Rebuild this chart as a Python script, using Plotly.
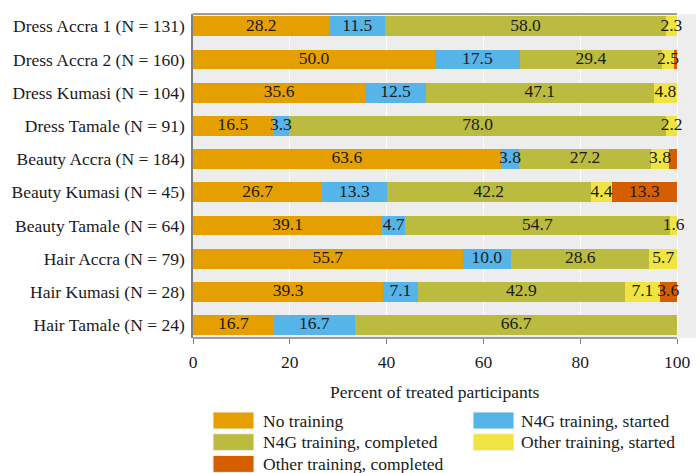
import plotly.graph_objects as go

# ---------------- data ----------------
categories = [
    "Dress Accra 1 (N = 131)", "Dress Accra 2 (N = 160)", "Dress Kumasi (N = 104)",
    "Dress Tamale (N = 91)", "Beauty Accra (N = 184)", "Beauty Kumasi (N = 45)",
    "Beauty Tamale (N = 64)", "Hair Accra (N = 79)", "Hair Kumasi (N = 28)",
    "Hair Tamale (N = 24)",
]
series_names = [
    "No training", "N4G training, started", "N4G training, completed",
    "Other training, started", "Other training, completed",
]
no_training      = [28.2, 50.0, 35.6, 16.5, 63.6, 26.7, 39.1, 55.7, 39.3, 16.7]
n4g_started      = [11.5, 17.5, 12.5, 3.3, 3.8, 13.3, 4.7, 10.0, 7.1, 16.7]
n4g_completed    = [58.0, 29.4, 47.1, 78.0, 27.2, 42.2, 54.7, 28.6, 42.9, 66.7]
other_started    = [2.3, 2.5, 4.8, 2.2, 3.8, 4.4, 1.6, 5.7, 7.1, 0.0]
other_completed  = [0.0, 0.6, 0.0, 0.0, 1.6, 13.3, 0.0, 0.0, 3.6, 0.0]
series_values = [no_training, n4g_started, n4g_completed, other_started, other_completed]
colors = ["#E69F00", "#56B4E9", "#BBBB40", "#F0E442", "#D55E00"]
# segments whose value label is not printed in the original (row, series)
hidden_labels = [(1, 4), (4, 4)]
x_ticks = [0, 20, 40, 60, 80, 100]

# ---------------- layout constants ----------------
W, H = 696, 473
L, R, T, B = 193, 0, 14, 135
PW, PH = W - L - R, H - T - B
FONT = "Liberation Serif"
FS = 17.5
TXT = "#1a1a1a"
PANEL = "#EDEDED"
LINE = "#7f7f7f"
X_MAX = 100 * PW / 484.0  # 0..100 spans 484 px

def px_x(px):
    return (px - L) / PW

def px_y(py):
    return (H - B - py) / PH

fig = go.Figure()

# stacked bars
for name, vals, col in zip(series_names, series_values, colors):
    fig.add_trace(go.Bar(
        x=vals, y=categories, orientation="h", name=name,
        marker=dict(color=col, line=dict(width=0)),
        width=0.6, showlegend=False, hoverinfo="x+name",
    ))

# value labels at segment midpoints
lab_x, lab_y, lab_t = [], [], []
for r, cat in enumerate(categories):
    cum = 0.0
    for s, vals in enumerate(series_values):
        v = vals[r]
        if v > 0 and (r, s) not in hidden_labels:
            lab_x.append(cum + v / 2.0)
            lab_y.append(cat)
            lab_t.append(f"{v:.1f}")
        cum += v
fig.add_trace(go.Scatter(
    x=lab_x, y=lab_y, text=lab_t, mode="text",
    textfont=dict(family=FONT, size=FS, color=TXT),
    textposition="middle center", showlegend=False, hoverinfo="skip",
    cliponaxis=False,
))

shapes = [
    # top and bottom panel lines spanning 0..100
    dict(type="line", xref="x", yref="paper", x0=0, x1=100, y0=1, y1=1,
         line=dict(color=LINE, width=1.5)),
    dict(type="line", xref="x", yref="paper", x0=0, x1=100, y0=0, y1=0,
         line=dict(color=LINE, width=1.5)),
]
annotations = []

# manual legend (ggplot style keys)
leg_cols_x = [213, 473]
leg_text_x = [261, 519]
leg_row0, leg_dy = 420.5, 21.7
key_w, key_h = 41, 17
for i, (name, col) in enumerate(zip(series_names, colors)):
    r, c = divmod(i, 2)
    cy = leg_row0 + r * leg_dy
    shapes.append(dict(
        type="rect", xref="paper", yref="paper",
        x0=px_x(leg_cols_x[c]), x1=px_x(leg_cols_x[c] + key_w),
        y0=px_y(cy + key_h / 2), y1=px_y(cy - key_h / 2),
        fillcolor=col, line=dict(color="#f4f4f4", width=1),
    ))
    annotations.append(dict(
        xref="paper", yref="paper", x=px_x(leg_text_x[c]), y=px_y(cy),
        text=name, showarrow=False, xanchor="left", yanchor="middle",
        font=dict(family=FONT, size=FS, color=TXT),
    ))

# axis title
annotations.append(dict(
    xref="paper", yref="paper", x=px_x((L + 677) / 2), y=px_y(392),
    text="Percent of treated participants", showarrow=False,
    xanchor="center", yanchor="middle",
    font=dict(family=FONT, size=FS, color=TXT),
))

fig.update_layout(
    width=W, height=H,
    margin=dict(l=L, r=R, t=T, b=B, pad=0),
    barmode="stack", bargap=0.4,
    paper_bgcolor="white", plot_bgcolor=PANEL,
    font=dict(family=FONT, size=FS, color=TXT),
    shapes=shapes, annotations=annotations,
    showlegend=False,
    xaxis=dict(
        range=[0, X_MAX], tickvals=x_ticks, ticktext=[str(t) for t in x_ticks],
        showgrid=True, gridcolor="white", gridwidth=1.2,
        zeroline=False, showline=False,
        ticks="outside", ticklen=5, tickcolor=LINE, tickwidth=1.2,
        ticklabelstandoff=3,
        tickfont=dict(family=FONT, size=FS, color=TXT),
    ),
    yaxis=dict(
        type="category", categoryorder="array", categoryarray=categories,
        range=[9.39, -0.37],
        showgrid=False, zeroline=False,
        showline=True, linecolor=LINE, linewidth=1.5,
        ticks="", ticklabelstandoff=3,
        tickfont=dict(family=FONT, size=FS, color=TXT),
    ),
)

fig.write_html("out.html", config={"displayModeBar": False},
               post_script="document.body.style.margin='0';")
